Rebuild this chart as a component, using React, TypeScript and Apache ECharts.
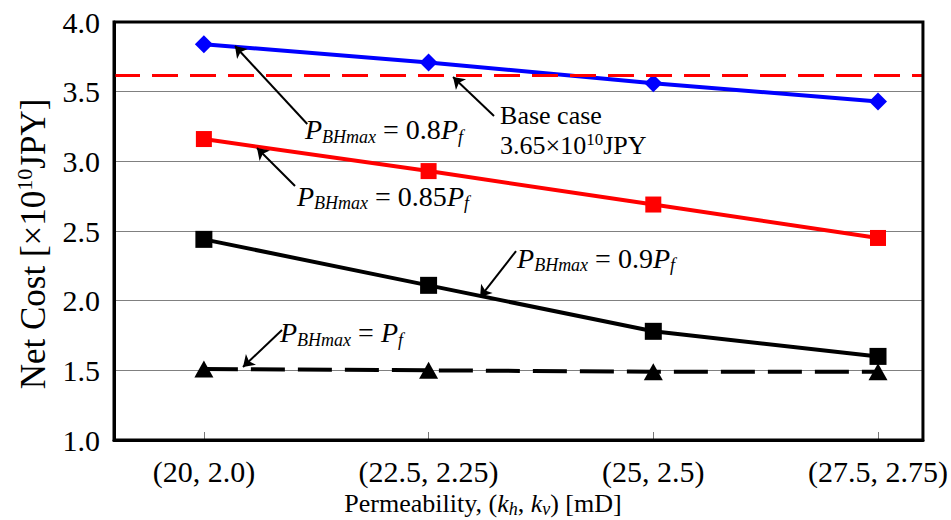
import React, { useEffect, useRef } from "react";
import * as echarts from "echarts";

// ---- data ----
const kh = [20, 22.5, 25, 27.5];
const tickLabels = ["(20, 2.0)", "(22.5, 2.25)", "(25, 2.5)", "(27.5, 2.75)"];
const cost080 = [3.84, 3.71, 3.56, 3.43];
const cost085 = [3.16, 2.93, 2.69, 2.45];
const cost090 = [2.44, 2.11, 1.78, 1.6];
const cost100 = [1.51, 1.5, 1.49, 1.49];
const baseCase = 3.62;

// annotation anchors (data coordinates)
const annoLabels = ["0.8", "base", "0.85", "0.9", "1"];
const annoAt = [
  [21.125, 3.225],
  [23.295, 3.218],
  [21.036, 2.751],
  [23.484, 2.306],
  [20.847, 1.768],
];
const arrowFrom = [
  [21.15, 3.268],
  [23.228, 3.325],
  [21.014, 2.823],
  [23.473, 2.356],
  [20.869, 1.789],
];
const arrowTo = [
  [20.346, 3.828],
  [22.772, 3.605],
  [20.591, 3.096],
  [23.073, 2.026],
  [20.435, 1.524],
];

const SERIF = "Liberation Serif";

const annoRich = {
  p: { fontFamily: SERIF, fontStyle: "italic", fontSize: 28, lineHeight: 32, fill: "#000" },
  n: { fontFamily: SERIF, fontStyle: "normal", fontSize: 28, lineHeight: 32, fill: "#000" },
  s: { fontFamily: SERIF, fontStyle: "italic", fontSize: 18, lineHeight: 18, verticalAlign: "bottom", fill: "#000" },
  t: { fontFamily: SERIF, fontStyle: "normal", fontSize: 26, lineHeight: 30, fill: "#000" },
  sup: { fontFamily: SERIF, fontStyle: "normal", fontSize: 17, lineHeight: 17, verticalAlign: "top", fill: "#000" },
};

function annoText(key: string): string {
  if (key === "base") return "{t|Base case}\n{t|3.65×10}{sup|10}{t|JPY}";
  if (key === "1") return "{p|P}{s|BHmax}{n| = }{p|P}{s|f}";
  return "{p|P}{s|BHmax}{n| = " + key + "}{p|P}{s|f}";
}

export default function App() {
  const ref = useRef<HTMLDivElement>(null);
  useEffect(() => {
    if (!ref.current) return;
    const chart = echarts.init(ref.current, undefined, { renderer: "svg" });
    const mk = (v: number[]) => v.map((y, i) => [kh[i], y]);
    const axisNames: any[] = [
      {
        type: "text",
        x: 33,
        y: 244,
        rotation: Math.PI / 2,
        style: {
          text: "{t|Net Cost [×10}{sup|10}{t|JPY]}",
          align: "center",
          verticalAlign: "middle",
          rich: {
            t: { fontFamily: SERIF, fontSize: 35, lineHeight: 40, fill: "#000" },
            sup: { fontFamily: SERIF, fontSize: 22, lineHeight: 22, verticalAlign: "top", fill: "#000" },
          },
        },
      },
      {
        type: "text",
        x: 483,
        y: 503,
        style: {
          text: "{t|Permeability, (}{i|k}{s|h}{t|, }{i|k}{s|v}{t|) [mD]}",
          align: "center",
          verticalAlign: "middle",
          rich: {
            t: { fontFamily: SERIF, fontSize: 26, lineHeight: 30, fill: "#000" },
            i: { fontFamily: SERIF, fontStyle: "italic", fontSize: 26, lineHeight: 30, fill: "#000" },
            s: { fontFamily: SERIF, fontStyle: "italic", fontSize: 18, lineHeight: 18, verticalAlign: "bottom", fill: "#000" },
          },
        },
      },
    ];
    const option: any = {
      animation: false,
      backgroundColor: "#fff",
      textStyle: { fontFamily: SERIF },
      grid: { left: 114, right: 28, top: 22, bottom: 80, show: true, borderColor: "#000", borderWidth: 3, z: 10 },
      xAxis: {
        type: "value",
        min: 19,
        max: 28,
        splitLine: { show: false },
        axisLine: { show: true, lineStyle: { color: "#000", width: 3 } },
        axisTick: { show: true, inside: true, length: 8, customValues: kh, lineStyle: { color: "#777", width: 1 } },
        axisLabel: {
          customValues: kh,
          margin: 16,
          fontFamily: SERIF,
          fontSize: 30,
          color: "#000",
          formatter: (v: number) => {
            const i = kh.indexOf(v);
            return i >= 0 ? tickLabels[i] : "";
          },
        },
      },
      yAxis: {
        type: "value",
        min: 1,
        max: 4,
        interval: 0.5,
        axisLine: { show: true, lineStyle: { color: "#000", width: 3 } },
        axisTick: { show: false },
        splitLine: { show: true, lineStyle: { color: "#808080", width: 1 } },
        axisLabel: {
          margin: 14,
          fontFamily: SERIF,
          fontSize: 30,
          color: "#000",
          formatter: (v: number) => v.toFixed(1),
        },
      },
      graphic: axisNames,
      series: [
        {
          name: "P_BHmax = 0.8Pf",
          type: "line",
          data: mk(cost080),
          symbol: "diamond",
          symbolSize: 18,
          itemStyle: { color: "#0000ff" },
          lineStyle: { color: "#0000ff", width: 4 },
          z: 3,
          markLine: {
            silent: true,
            symbol: ["none", "none"],
            label: { show: false },
            lineStyle: { color: "#ff0000", width: 3, type: [26, 12] },
            data: [{ yAxis: baseCase }],
          },
        },
        {
          name: "P_BHmax = 0.85Pf",
          type: "line",
          data: mk(cost085),
          symbol: "rect",
          symbolSize: 16,
          itemStyle: { color: "#ff0000" },
          lineStyle: { color: "#ff0000", width: 4 },
          z: 3,
        },
        {
          name: "P_BHmax = 0.9Pf",
          type: "line",
          data: mk(cost090),
          symbol: "rect",
          symbolSize: 17,
          itemStyle: { color: "#000" },
          lineStyle: { color: "#000", width: 4 },
          z: 3,
        },
        {
          name: "P_BHmax = Pf",
          type: "line",
          data: mk(cost100),
          symbol: "triangle",
          symbolSize: [19, 17],
          itemStyle: { color: "#000" },
          lineStyle: { color: "#000", width: 4, type: [34, 13] },
          z: 3,
        },
        {
          type: "lines",
          coordinateSystem: "cartesian2d",
          symbol: ["none", "arrow"],
          symbolSize: 11,
          lineStyle: { color: "#000", width: 2, opacity: 1, curveness: 0 },
          data: arrowFrom.map((f, i) => ({ coords: [f, arrowTo[i]] })),
          z: 4,
        },
      ],
    };
    chart.setOption(option);
    const annoGraphics = annoAt.map((p, i) => {
      const px = chart.convertToPixel({ gridIndex: 0 }, p) as number[];
      return {
        type: "text",
        x: px[0],
        y: px[1],
        z: 50,
        style: {
          text: annoText(annoLabels[i]),
          align: "left",
          verticalAlign: "middle",
          rich: annoRich,
        },
      };
    });
    chart.setOption({ graphic: [...axisNames, ...annoGraphics] });
    return () => chart.dispose();
  }, []);
  return <div ref={ref} style={{ position: "fixed", left: 0, top: 0, width: 951, height: 520 }} />;
}
